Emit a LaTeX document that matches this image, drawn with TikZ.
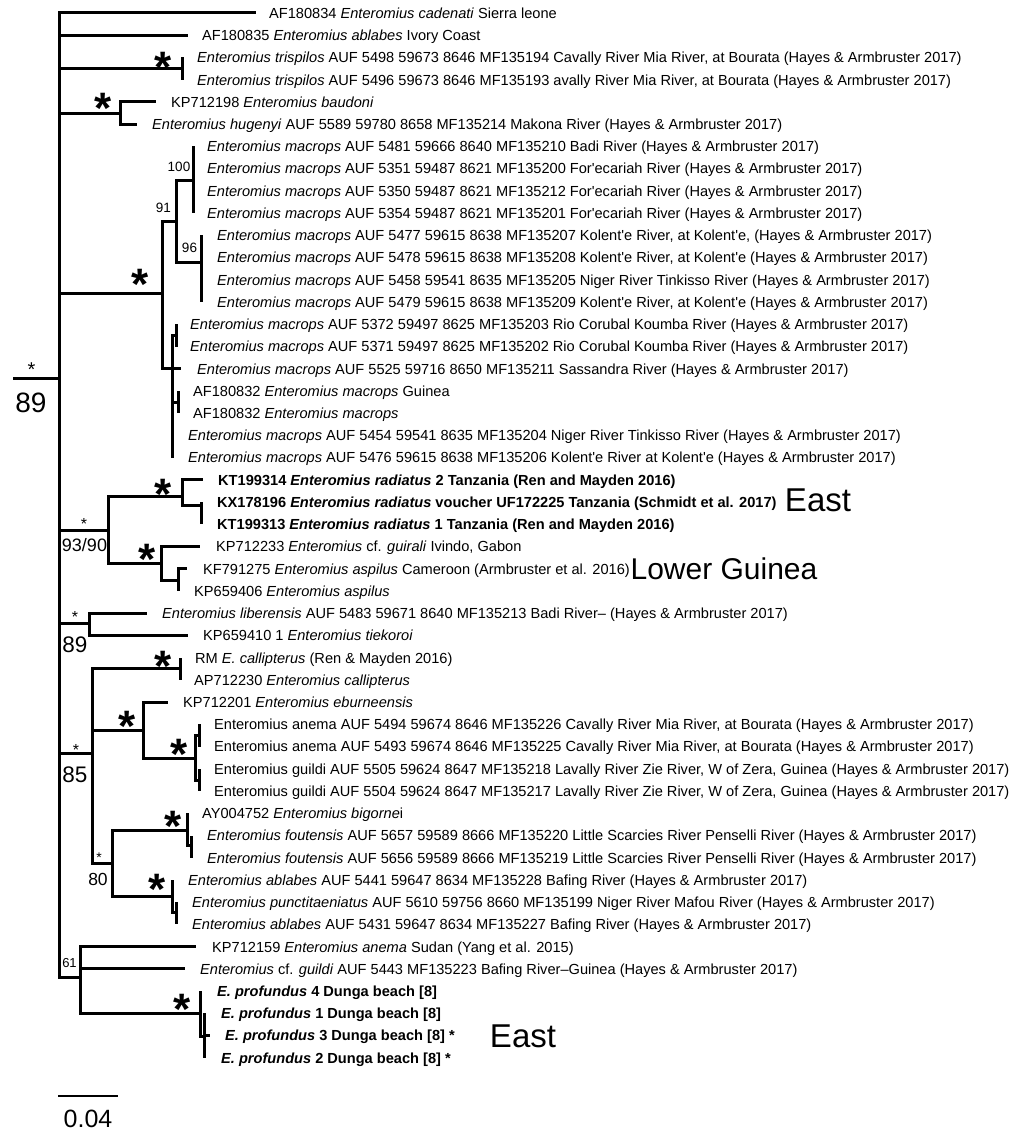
\documentclass[tikz,border=0pt]{standalone}
\usepackage{fontspec}
\setmainfont{Liberation Sans}
\newcommand\apo{\textquotesingle}
\begin{document}
\begin{tikzpicture}[x=1pt,y=-1pt,
 br/.style={line width=3pt, line join=miter},
 leaf/.style={anchor=base west, inner sep=0pt, font=\fontsize{14.6}{16}\selectfont},
 bigstar/.style={anchor=north, inner sep=0pt, font=\fontsize{44}{44}\selectfont\bfseries},
 smallstar/.style={anchor=north, inner sep=0pt, font=\fontsize{#1}{#1}\selectfont},
 support/.style={inner sep=0pt, font=\fontsize{#1}{#1}\selectfont},
 region/.style={inner sep=0pt, font=\fontsize{33}{33}\selectfont},
 ]
\useasboundingbox (0,0) rectangle (1031,1132);
% ---------- tips ----------
\coordinate (t1) at (256,13);
\coordinate (t2) at (188,35.2);
\coordinate (t3) at (182,57.5);
\coordinate (t4) at (182,79.7);
\coordinate (t5) at (156,101.9);
\coordinate (t6) at (137,124.2);
\coordinate (t7) at (193,146.4);
\coordinate (t8) at (193,168.6);
\coordinate (t9) at (193,190.8);
\coordinate (t10) at (193,213.1);
\coordinate (t11) at (201,235.3);
\coordinate (t12) at (201,257.5);
\coordinate (t13) at (201,279.8);
\coordinate (t14) at (201,302.0);
\coordinate (t15) at (176,324.2);
\coordinate (t16) at (176,346.5);
\coordinate (t17) at (181,368.7);
\coordinate (t18) at (178,390.9);
\coordinate (t19) at (178,413.1);
\coordinate (t20) at (172,435.4);
\coordinate (t21) at (172,457.6);
\coordinate (t22) at (203,479.8);
\coordinate (t23) at (201,502.1);
\coordinate (t24) at (201,524.3);
\coordinate (t25) at (200,546.5);
\coordinate (t26) at (187,568.8);
\coordinate (t27) at (178,591.0);
\coordinate (t28) at (147,613.2);
\coordinate (t29) at (188,635.4);
\coordinate (t30) at (180,657.7);
\coordinate (t31) at (180,679.9);
\coordinate (t32) at (168,702.1);
\coordinate (t33) at (199,724.4);
\coordinate (t34) at (199,746.6);
\coordinate (t35) at (199,768.8);
\coordinate (t36) at (199,791.1);
\coordinate (t37) at (187,813.3);
\coordinate (t38) at (191,835.5);
\coordinate (t39) at (191,857.7);
\coordinate (t40) at (172,880.0);
\coordinate (t41) at (176,902.2);
\coordinate (t42) at (176,924.4);
\coordinate (t43) at (196,946.7);
\coordinate (t44) at (185,968.9);
\coordinate (t45) at (200,991.1);
\coordinate (t46) at (204,1013.4);
\coordinate (t47) at (210,1035.6);
\coordinate (t48) at (204,1057.8);
% ---------- internal nodes ----------
\coordinate (R0) at (13,378);
\coordinate (R) at (59,378);
\coordinate (Ntri) at (182,68.6);
\coordinate (Nbau) at (120,113);
\coordinate (Nmac) at (162,293);
\coordinate (N91) at (176,221);
\coordinate (N100) at (193,180);
\coordinate (N96) at (201,262);
\coordinate (Nm2) at (172,368);
\coordinate (P1) at (176,335);
\coordinate (P2) at (178,402);
\coordinate (Nra) at (108,530);
\coordinate (Nrad) at (182,496);
\coordinate (Nkx) at (201,505);
\coordinate (Nasp) at (161,563);
\coordinate (Nasp2) at (178,580);
\coordinate (Nlib) at (89,623);
\coordinate (N85) at (92,753);
\coordinate (Ncal) at (180,668);
\coordinate (Neb) at (143,730);
\coordinate (Nag) at (195,758);
\coordinate (Nan) at (199,735);
\coordinate (Ngu) at (199,780);
\coordinate (N80) at (112,863);
\coordinate (Nfo) at (187,830);
\coordinate (Nfo2) at (191,845);
\coordinate (Nab) at (172,896);
\coordinate (Nab2) at (176,912);
\coordinate (N61) at (80,977);
\coordinate (Npro) at (200,1013);
\coordinate (Npro2) at (204,1036);
% ---------- branches ----------
\draw[br] (R0) -- (R);
\draw[br] (R) |- (t1) (R) |- (t2) (R) |- (Ntri) (R) |- (Nbau) (R) |- (Nmac)
  (R) |- (Nra) (R) |- (Nlib) (R) |- (N85) (R) |- (N61);
\draw[br] (Ntri) |- (t3) (Ntri) |- (t4);
\draw[br] (Nbau) |- (t5) (Nbau) |- (t6);
\draw[br] (Nmac) |- (N91) (Nmac) |- (Nm2);
\draw[br] (N91) |- (N100) (N91) |- (N96);
\draw[br] (N100) |- (t7) (N100) |- (t10);
\draw[br] (N96) |- (t11) (N96) |- (t14);
\draw[br] (Nm2) |- (P1) (Nm2) |- (t17) (Nm2) |- (P2) (Nm2) |- (t21);
\draw[br] (P1) |- (t15) (P1) |- (t16);
\draw[br] (P2) |- (t18) (P2) |- (t19);
\draw[br] (Nra) |- (Nrad) (Nra) |- (Nasp);
\draw[br] (Nrad) |- (t22) (Nrad) |- (Nkx);
\draw[br] (Nkx) |- (t23) (Nkx) |- (t24);
\draw[br] (Nasp) |- (t25) (Nasp) |- (Nasp2);
\draw[br] (Nasp2) |- (t26) (Nasp2) |- (t27);
\draw[br] (Nlib) |- (t28) (Nlib) |- (t29);
\draw[br] (N85) |- (Ncal) (N85) |- (Neb) (N85) |- (N80);
\draw[br] (Ncal) |- (t30) (Ncal) |- (t31);
\draw[br] (Neb) |- (t32) (Neb) |- (Nag);
\draw[br] (Nag) |- (Nan) (Nag) |- (Ngu);
\draw[br] (Nan) |- (t33) (Nan) |- (t34);
\draw[br] (Ngu) |- (t35) (Ngu) |- (t36);
\draw[br] (N80) |- (Nfo) (N80) |- (Nab);
\draw[br] (Nfo) |- (t37) (Nfo) |- (Nfo2);
\draw[br] (Nfo2) |- (t38) (Nfo2) |- (t39);
\draw[br] (Nab) |- (t40) (Nab) |- (Nab2);
\draw[br] (Nab2) |- (t41) (Nab2) |- (t42);
\draw[br] (N61) |- (t43) (N61) |- (t44) (N61) |- (Npro);
\draw[br] (Npro) |- (t45) (Npro) |- (Npro2);
\draw[br] (Npro2) |- (t46) (Npro2) |- (t47) (Npro2) |- (t48);
% ---------- leaf labels ----------
\node[leaf] (L1) at (269,18.3) {AF180834 \textit{Enteromius cadenati} Sierra leone};
\node[leaf] (L2) at (202,40.5) {AF180835 \textit{Enteromius ablabes} Ivory Coast};
\node[leaf] (L3) at (197,62.8) {\textit{Enteromius trispilos} AUF 5498 59673 8646 MF135194 Cavally River Mia River, at Bourata (Hayes \& Armbruster 2017)};
\node[leaf] (L4) at (197,85.0) {\textit{Enteromius trispilos} AUF 5496 59673 8646 MF135193 avally River Mia River, at Bourata (Hayes \& Armbruster 2017)};
\node[leaf] (L5) at (171,107.2) {KP712198 \textit{Enteromius baudoni}};
\node[leaf] (L6) at (152,129.5) {\textit{Enteromius hugenyi} AUF 5589 59780 8658 MF135214 Makona River (Hayes \& Armbruster 2017)};
\node[leaf] (L7) at (207,151.7) {\textit{Enteromius macrops} AUF 5481 59666 8640 MF135210 Badi River (Hayes \& Armbruster 2017)};
\node[leaf] (L8) at (207,173.9) {\textit{Enteromius macrops} AUF 5351 59487 8621 MF135200 For\apo ecariah River (Hayes \& Armbruster 2017)};
\node[leaf] (L9) at (207,196.1) {\textit{Enteromius macrops} AUF 5350 59487 8621 MF135212 For\apo ecariah River (Hayes \& Armbruster 2017)};
\node[leaf] (L10) at (207,218.4) {\textit{Enteromius macrops} AUF 5354 59487 8621 MF135201 For\apo ecariah River (Hayes \& Armbruster 2017)};
\node[leaf] (L11) at (217,240.6) {\textit{Enteromius macrops} AUF 5477 59615 8638 MF135207 Kolent\apo e River, at Kolent\apo e, (Hayes \& Armbruster 2017)};
\node[leaf] (L12) at (217,262.8) {\textit{Enteromius macrops} AUF 5478 59615 8638 MF135208 Kolent\apo e River, at Kolent\apo e (Hayes \& Armbruster 2017)};
\node[leaf] (L13) at (217,285.1) {\textit{Enteromius macrops} AUF 5458 59541 8635 MF135205 Niger River Tinkisso River (Hayes \& Armbruster 2017)};
\node[leaf] (L14) at (217,307.3) {\textit{Enteromius macrops} AUF 5479 59615 8638 MF135209 Kolent\apo e River, at Kolent\apo e (Hayes \& Armbruster 2017)};
\node[leaf] (L15) at (190,329.5) {\textit{Enteromius macrops} AUF 5372 59497 8625 MF135203 Rio Corubal Koumba River (Hayes \& Armbruster 2017)};
\node[leaf] (L16) at (190,351.8) {\textit{Enteromius macrops} AUF 5371 59497 8625 MF135202 Rio Corubal Koumba River (Hayes \& Armbruster 2017)};
\node[leaf] (L17) at (197,374.0) {\textit{Enteromius macrops} AUF 5525 59716 8650 MF135211 Sassandra River (Hayes \& Armbruster 2017)};
\node[leaf] (L18) at (193,396.2) {AF180832 \textit{Enteromius macrops} Guinea};
\node[leaf] (L19) at (193,418.4) {AF180832 \textit{Enteromius macrops}};
\node[leaf] (L20) at (188,440.7) {\textit{Enteromius macrops} AUF 5454 59541 8635 MF135204 Niger River Tinkisso River (Hayes \& Armbruster 2017)};
\node[leaf] (L21) at (188,462.9) {\textit{Enteromius macrops} AUF 5476 59615 8638 MF135206 Kolent\apo e River at Kolent\apo e (Hayes \& Armbruster 2017)};
\node[leaf] (L22) at (218,485.1) {\bfseries KT199314 \textit{Enteromius radiatus} 2 Tanzania (Ren and Mayden 2016)};
\node[leaf] (L23) at (217,507.4) {\bfseries KX178196 \textit{Enteromius radiatus} voucher UF172225 Tanzania (Schmidt et al. 2017)};
\node[leaf] (L24) at (217,529.6) {\bfseries KT199313 \textit{Enteromius radiatus} 1 Tanzania (Ren and Mayden 2016)};
\node[leaf] (L25) at (216,551.8) {KP712233 \textit{Enteromius} cf. \textit{guirali} Ivindo, Gabon};
\node[leaf] (L26) at (203,574.1) {KF791275 \textit{Enteromius aspilus} Cameroon (Armbruster et al. 2016)};
\node[leaf] (L27) at (194,596.3) {KP659406 \textit{Enteromius aspilus}};
\node[leaf] (L28) at (162,618.5) {\textit{Enteromius liberensis} AUF 5483 59671 8640 MF135213 Badi River– (Hayes \& Armbruster 2017)};
\node[leaf] (L29) at (203,640.7) {KP659410 1 \textit{Enteromius tiekoroi}};
\node[leaf] (L30) at (195,663.0) {RM \textit{E. callipterus} (Ren \& Mayden 2016)};
\node[leaf] (L31) at (194,685.2) {AP712230 \textit{Enteromius callipterus}};
\node[leaf] (L32) at (183,707.4) {KP712201 \textit{Enteromius eburneensis}};
\node[leaf] (L33) at (214,729.7) {Enteromius anema AUF 5494 59674 8646 MF135226 Cavally River Mia River, at Bourata (Hayes \& Armbruster 2017)};
\node[leaf] (L34) at (214,751.9) {Enteromius anema AUF 5493 59674 8646 MF135225 Cavally River Mia River, at Bourata (Hayes \& Armbruster 2017)};
\node[leaf] (L35) at (214,774.1) {Enteromius guildi AUF 5505 59624 8647 MF135218 Lavally River Zie River, W of Zera, Guinea (Hayes \& Armbruster 2017)};
\node[leaf] (L36) at (214,796.4) {Enteromius guildi AUF 5504 59624 8647 MF135217 Lavally River Zie River, W of Zera, Guinea (Hayes \& Armbruster 2017)};
\node[leaf] (L37) at (202,818.6) {AY004752 \textit{Enteromius bigorne}i};
\node[leaf] (L38) at (207,840.8) {\textit{Enteromius foutensis} AUF 5657 59589 8666 MF135220 Little Scarcies River Penselli River (Hayes \& Armbruster 2017)};
\node[leaf] (L39) at (207,863.0) {\textit{Enteromius foutensis} AUF 5656 59589 8666 MF135219 Little Scarcies River Penselli River (Hayes \& Armbruster 2017)};
\node[leaf] (L40) at (188,885.3) {\textit{Enteromius ablabes} AUF 5441 59647 8634 MF135228 Bafing River (Hayes \& Armbruster 2017)};
\node[leaf] (L41) at (192,907.5) {\textit{Enteromius punctitaeniatus} AUF 5610 59756 8660 MF135199 Niger River Mafou River (Hayes \& Armbruster 2017)};
\node[leaf] (L42) at (192,929.7) {\textit{Enteromius ablabes} AUF 5431 59647 8634 MF135227 Bafing River (Hayes \& Armbruster 2017)};
\node[leaf] (L43) at (212,952.0) {KP712159 \textit{Enteromius anema} Sudan (Yang et al. 2015)};
\node[leaf] (L44) at (200,974.2) {\textit{Enteromius} cf. \textit{guildi} AUF 5443 MF135223 Bafing River–Guinea (Hayes \& Armbruster 2017)};
\node[leaf] (L45) at (217,996.4) {\bfseries\textit{E. profundus} 4 Dunga beach [8]};
\node[leaf] (L46) at (221,1018.7) {\bfseries\textit{E. profundus} 1 Dunga beach [8]};
\node[leaf] (L47) at (225,1040.9) {\bfseries\textit{E. profundus} 3 Dunga beach [8] *};
\node[leaf] (L48) at (221,1063.1) {\bfseries\textit{E. profundus} 2 Dunga beach [8] *};
% ---------- region labels ----------
\node[region] (east1) at (818,500) {East};
\node[region, font=\fontsize{30}{30}\selectfont] (lg) at (724,569) {Lower Guinea};
\node[region] (east2) at (523,1036) {East};
% ---------- support values ----------
\node[smallstar=20] (sR) at (31.5,363) {*};
\node[support=28] (bR) at (31,403) {89};
\node[support=13.5] (b100) at (179,167) {100};
\node[support=13.5] (b91) at (163.5,208) {91};
\node[support=13.5] (b96) at (189.5,248) {96};
\node[smallstar=16] (sRA) at (84,518) {*};
\node[support=18] (bRA) at (84.5,545.5) {93/90};
\node[smallstar=16] (sLib) at (75,611) {*};
\node[support=22.5] (bLib) at (75,645) {89};
\node[smallstar=16] (s85) at (76,744) {*};
\node[support=22.5] (b85) at (75,775) {85};
\node[smallstar=14] (s80) at (99,853) {*};
\node[support=17.5] (b80) at (98,879) {80};
\node[support=13] (b61) at (69.5,963.5) {61};
% big stars
\node[bigstar] (st1) at (163,52) {*};
\node[bigstar] (st2) at (103.5,93) {*};
\node[bigstar] (st3) at (140,269) {*};
\node[bigstar] (st4) at (163,479) {*};
\node[bigstar] (st5) at (147,544) {*};
\node[bigstar] (st6) at (163,651) {*};
\node[bigstar] (st7) at (127,711) {*};
\node[bigstar] (st8) at (179,739) {*};
\node[bigstar] (st9) at (173,811) {*};
\node[bigstar] (st10) at (157,874) {*};
\node[bigstar] (st11) at (182,994) {*};
% ---------- scale bar ----------
\coordinate (sb1) at (58,1096);
\coordinate (sb2) at (118,1096);
\draw[line width=1.8pt] (sb1) -- (sb2);
\node[support=25] (sbl) at (88,1119) {0.04};
\end{tikzpicture}
\end{document}
